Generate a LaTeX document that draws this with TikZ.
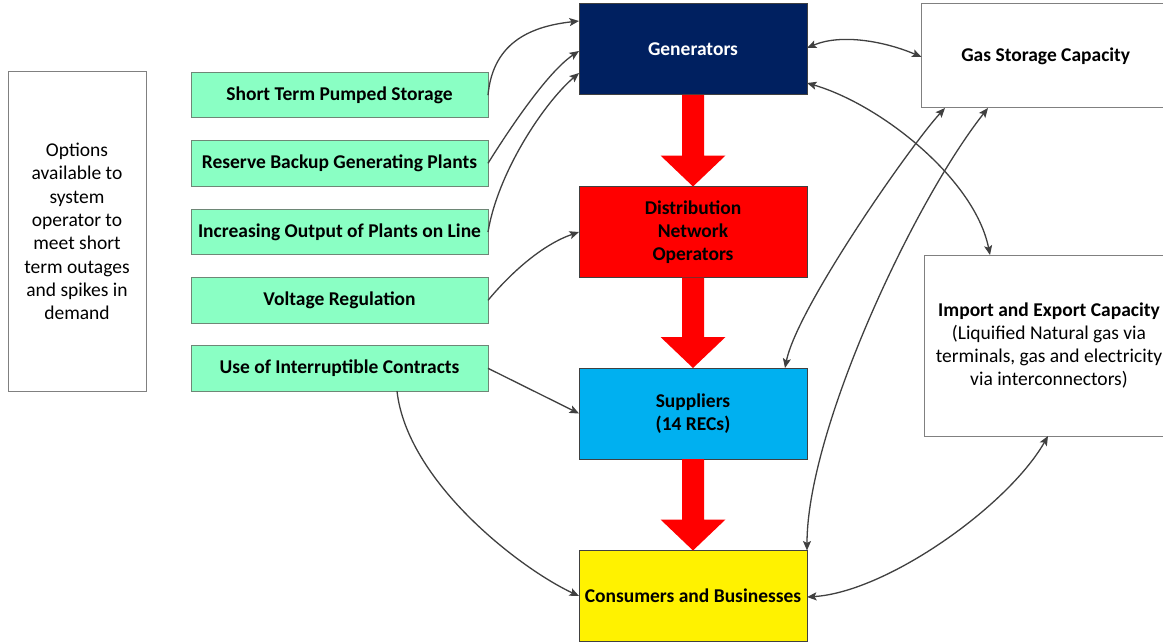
\documentclass[tikz,border=0pt]{standalone}
\usepackage{fontspec}
\setmainfont{Carlito}
\usetikzlibrary{arrows.meta,calc}
\definecolor{greenbox}{RGB}{138,255,196}
\definecolor{greenedge}{RGB}{110,135,118}
\definecolor{boxgray}{RGB}{128,128,128}
\definecolor{linegray}{RGB}{64,64,64}
\definecolor{genblue}{RGB}{0,32,96}
\definecolor{supblue}{RGB}{0,176,240}
\newcommand\blockarrow[2]{%
  \fill[red] ($(#1.south)+(-11,0)$) -- ($(#1.south)+(11,0)$) --
    ($(#2.north)+(11,-31)$) -- ($(#2.north)+(32.5,-31)$) -- (#2.north) --
    ($(#2.north)+(-32.5,-31)$) -- ($(#2.north)+(-11,-31)$) -- cycle;}
\begin{document}
\begin{tikzpicture}[x=1pt,y=-1pt,
  base/.style={draw, line width=1pt, inner sep=2pt, outer sep=0pt, align=center,
    font=\fontsize{19.5}{23.3}\selectfont},
  opt/.style={base, draw=greenedge, fill=greenbox, minimum width=297pt,
    minimum height=45.5pt, font=\bfseries\fontsize{19.5}{23.3}\selectfont},
  flow/.style={base, draw=linegray, minimum width=228pt, minimum height=91pt,
    font=\bfseries\fontsize{19.5}{23.3}\selectfont},
  info/.style={base, draw=boxgray, fill=white},
  conn/.style={draw=linegray, line width=1.3pt,
    -{Stealth[length=9.5pt,width=8pt,inset=2pt]}},
  conn2/.style={draw=linegray, line width=1.3pt,
    {Stealth[length=9.5pt,width=8pt,inset=2pt]}-{Stealth[length=9.5pt,width=8pt,inset=2pt]}}
]
\useasboundingbox[fill=white] (0,0) rectangle (1163,642);

% left description
\node[info, minimum width=138pt, minimum height=319pt] (opts) at (77,231.5)
  {Options\\available to\\system\\operator to\\meet short\\term outages\\and spikes in\\demand};

% options
\node[opt] (g1) at (339.5,95.2) {Short Term Pumped Storage};
\node[opt] (g2) at (339.5,163.3) {Reserve Backup Generating Plants};
\node[opt] (g3) at (339.5,232) {Increasing Output of Plants on Line};
\node[opt] (g4) at (339.5,300.3) {Voltage Regulation};
\node[opt] (g5) at (339.5,368.3) {Use of Interruptible Contracts};

% central flow
\node[flow, fill=genblue, text=white] (gen) at (693,49.5) {Generators};
\node[flow, fill=red] (dno) at (693,232) {Distribution\\Network\\Operators};
\node[flow, fill=supblue] (sup) at (693,413.5) {Suppliers\\(14 RECs)};
\node[flow, fill=yellow] (con) at (693,596) {Consumers and Businesses};

% right boxes
\node[info, minimum width=248.5pt, minimum height=104pt] (gas) at (1045.75,56)
  {\bfseries Gas Storage Capacity};
\node[info, minimum width=250pt, minimum height=181pt] (imp) at (1049,345.5)
  {\textbf{Import and Export Capacity}\\(Liquified Natural gas via\\terminals, gas and electricity\\via interconnectors)};

% block arrows
\blockarrow{gen}{dno}
\blockarrow{dno}{sup}
\blockarrow{sup}{con}

% options to flow
\draw[conn] (g1.east) .. controls +(5,-55) and +(-45,5) .. ($(gen.north west)+(0,17)$);
\draw[conn] (g2.east) .. controls +(25,-40) and +(-30,20) .. ($(gen.north west)+(0,47)$);
\draw[conn] (g3.east) .. controls +(10,-60) and +(-35,30) .. ($(gen.north west)+(0,69)$);
\draw[conn] (g4.east) .. controls +(25,-30) and +(-35,12) .. (dno.west);
\draw[conn] (g5.east) -- (sup.west);
\draw[conn] ($(g5.south)+(57.5,0)$) .. controls +(10,90) and +(-60,-28) .. (con.west);

% right-hand links
\draw[conn2] ($(gen.north east)+(0,44)$) .. controls +(35,-15) and +(-35,-15) .. ($(gas.west)+(0,1)$);
\draw[conn2] ($(gen.north east)+(0,79)$) .. controls +(75,22) and +(-15,-75) .. ($(imp.north west)+(66,0)$);
\draw[conn2] ($(gas.south west)+(23.5,0)$) .. controls +(-35,38) and +(12,-60) .. ($(sup.north east)+(-22,0)$);
\draw[conn2] ($(gas.south west)+(66.5,0)$) .. controls +(-75,95) and +(0,-120) .. (con.north east);
\draw[conn2] ($(imp.south west)+(124,0)$) .. controls +(-40,70) and +(80,-5) .. ($(con.east)+(0,1)$);
\end{tikzpicture}
\end{document}
